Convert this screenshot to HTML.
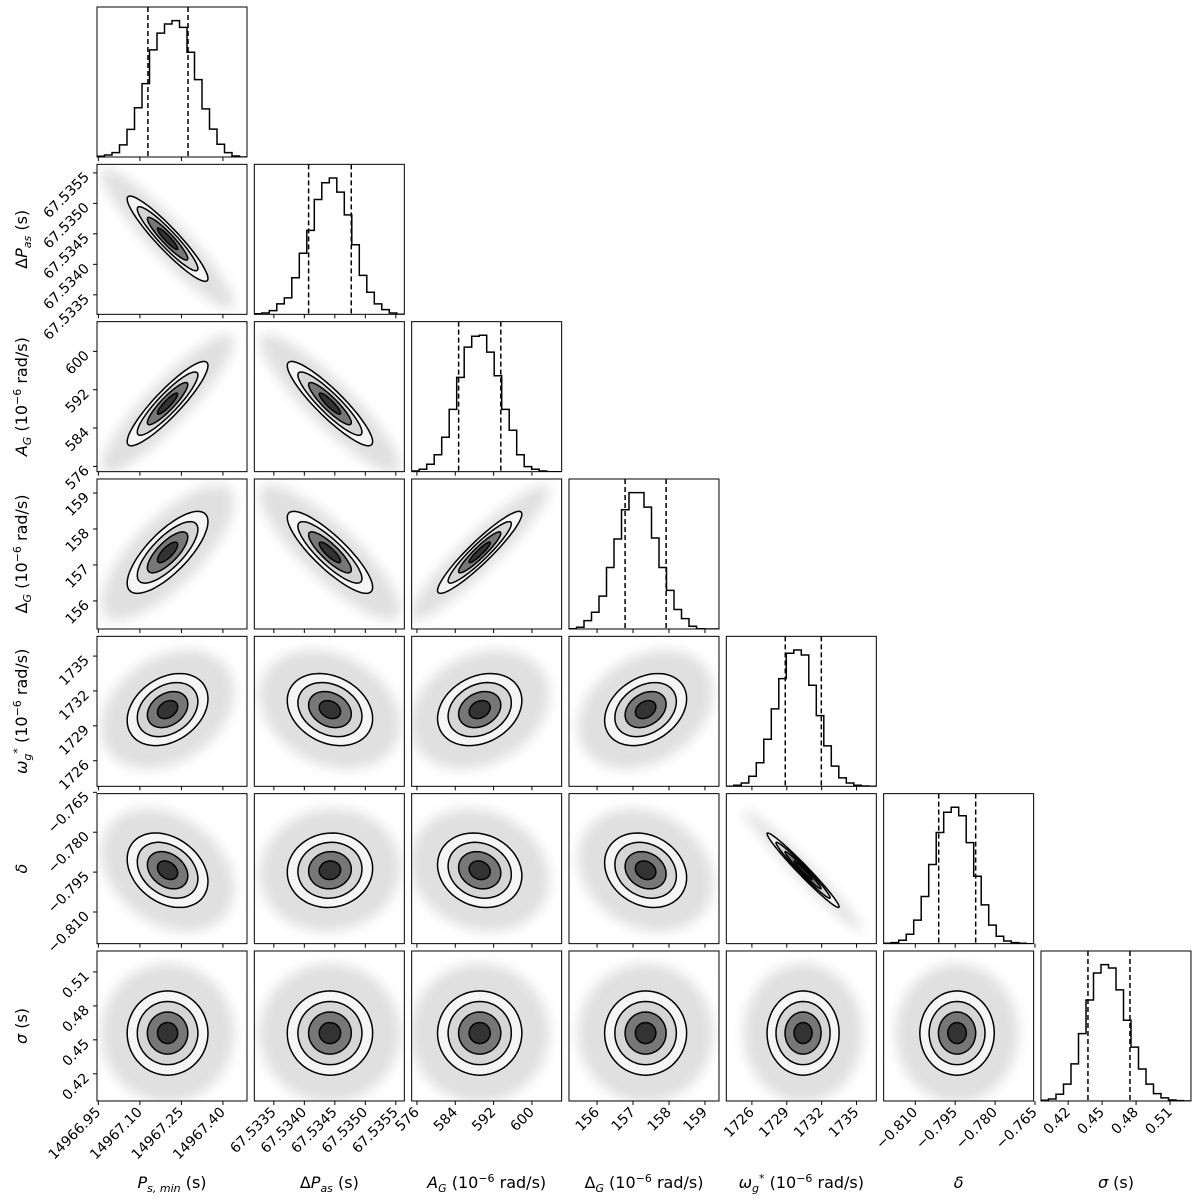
<!DOCTYPE html>
<html><head><meta charset="utf-8"><style>
html,body{margin:0;padding:0;background:#fff;}
svg{display:block;font-family:"DejaVu Sans","Liberation Sans",sans-serif;}
</style></head><body>
<svg id="chart" width="1200" height="1200" viewBox="0 0 1200 1200">
<defs><filter id="blur" x="-50%" y="-50%" width="200%" height="200%"><feGaussianBlur stdDeviation="6"/></filter></defs>
</svg>
<script>
// ---- data ----
const paramNames = ["P_smin","dP_as","A_G","Delta_G","omega_g","delta","sigma"];
const rangeLo = [14966.945, 67.53318, 574.9, 155.22, 1723.8, -0.8219, 0.396];
const rangeHi = [14967.487, 67.53564, 606.2, 159.39, 1736.7, -0.7655, 0.5285];
const means = [14967.20, 67.53442, 589.1, 157.35, 1730.4, -0.7943, 0.456];
const sds = [0.073, 0.00035, 4.4, 0.57, 1.55, 0.0070, 0.0186];
const q16 = [14967.129, 67.53407, 584.7, 156.78, 1728.87, -0.8012, 0.4375];
const q84 = [14967.274, 67.53477, 593.5, 157.92, 1731.97, -0.7873, 0.4746];
const corr = [
 [1, -0.93, 0.90, 0.75, 0.30, -0.30, 0.0],
 [-0.93, 1, -0.90, -0.85, -0.25, 0.05, 0.0],
 [0.90, -0.90, 1, 0.93, 0.25, -0.15, 0.0],
 [0.75, -0.85, 0.93, 1, 0.30, -0.20, 0.0],
 [0.30, -0.25, 0.25, 0.30, 1, -0.98, 0.0],
 [-0.30, 0.05, -0.15, -0.20, -0.98, 1, 0.0],
 [0.0, 0.0, 0.0, 0.0, 0.0, 0.0, 1]];
const hist0 = [2,6,13,36,82,146,218,318,368,395,405,385,311,230,143,83,38,13,3,0];
const hist1 = [2,4,11,31,49,109,182,250,342,392,406,364,296,207,116,66,31,14,4,0];
const hist2 = [2,7,22,50,102,185,280,370,402,405,355,285,185,123,50,15,7,2,0,0];
const hist3 = [1,5,25,50,98,183,268,355,406,406,363,271,183,115,58,31,8,1,0,0];
const hist4 = [0,3,10,30,70,140,230,320,395,405,390,300,210,120,60,25,10,3,1,0];
const hist5 = [1,3,10,28,70,140,235,330,390,405,380,300,200,115,55,22,8,3,1,0];
const hist6 = [2,6,20,50,110,200,300,380,405,395,330,240,160,95,50,22,9,3,1,0];
const hists = [hist0,hist1,hist2,hist3,hist4,hist5,hist6];
const ticks = [
 [14966.95,14967.10,14967.25,14967.40],
 [67.5335,67.5340,67.5345,67.5350,67.5355],
 [576,584,592,600],
 [156,157,158,159],
 [1726,1729,1732,1735],
 [-0.810,-0.795,-0.780,-0.765],
 [0.42,0.45,0.48,0.51]];
const tickLabels = [
 ["14966.95","14967.10","14967.25","14967.40"],
 ["67.5335","67.5340","67.5345","67.5350","67.5355"],
 ["576","584","592","600"],
 ["156","157","158","159"],
 ["1726","1729","1732","1735"],
 ["\u22120.810","\u22120.795","\u22120.780","\u22120.765"],
 ["0.42","0.45","0.48","0.51"]];
const contourLevels = [0.5,1,1.5,2];

// ---- layout ----
const NS="http://www.w3.org/2000/svg";
const svg=document.getElementById('chart');
const P0=97, PITCH=157.33, SZ=150, N=7;
function mk(tag,attrs,parent){const e=document.createElementNS(NS,tag);for(const k in attrs)e.setAttribute(k,attrs[k]);(parent||svg).appendChild(e);return e;}
function colX(i){return P0+i*PITCH;}
function rowY(i){return 7+i*PITCH;}
function sx(i,v){return colX(i)+(v-rangeLo[i])/(rangeHi[i]-rangeLo[i])*SZ;}
function sy(row,i,v){return rowY(row)+SZ-(v-rangeLo[i])/(rangeHi[i]-rangeLo[i])*SZ;}

function ellipsePts(i,j,row,r){
  const rho=corr[i][j];let pts=[];
  for(let k=0;k<=72;k++){const t=k/72*2*Math.PI;const z1=r*Math.cos(t),z2=r*Math.sin(t);
    const xv=means[i]+sds[i]*z1; const yv=means[j]+sds[j]*(rho*z1+Math.sqrt(1-rho*rho)*z2);
    pts.push(sx(i,xv).toFixed(1)+','+sy(row,j,yv).toFixed(1));}
  return pts.join(' ');
}

for(let r=0;r<N;r++){
  for(let c=0;c<=r;c++){
    const g=mk('g',{});
    
    
    const cid='clip'+r+'_'+c;
    const cp=mk('clipPath',{id:cid},g);mk('rect',{x:colX(c),y:rowY(r),width:SZ,height:SZ},cp);
    const inner=mk('g',{'clip-path':'url(#'+cid+')'},g);
    if(r===c){
      const h=hists[c];const mx=Math.max(...h)*1.1;const bw=SZ/h.length;
      let d='M'+colX(c)+','+(rowY(r)+SZ);
      h.forEach((v,k)=>{const y=rowY(r)+SZ-v/mx*SZ;d+=' L'+(colX(c)+k*bw).toFixed(1)+','+y.toFixed(1)+' L'+(colX(c)+(k+1)*bw).toFixed(1)+','+y.toFixed(1);});
      d+=' L'+(colX(c)+SZ)+','+(rowY(r)+SZ);
      const p=mk('path',{d:d,fill:'none',stroke:'#000','stroke-width':1.5},inner);
      
      
      [q16[c],q84[c]].forEach((q,qi)=>{const x=sx(c,q);
        const l=mk('line',{x1:x,x2:x,y1:rowY(r),y2:rowY(r)+SZ,stroke:'#000','stroke-width':1.5,'stroke-dasharray':'5,3'},inner);
        
        });
    } else {
      const haze=mk('polygon',{points:ellipsePts(c,r,r,3.3),fill:'#e0e0e0',filter:'url(#blur)'},inner);
      
      
      const fills=['#f5f5f5','#d6d6d6','#777777','#333333'];
      [2,1.5,1,0.5].forEach((lv,k)=>{mk('polygon',{points:ellipsePts(c,r,r,lv),fill:fills[k]},inner);});
      contourLevels.forEach(lv=>{const e=mk('polygon',{points:ellipsePts(c,r,r,lv),fill:'none',stroke:'#000','stroke-width':1.5},inner);
        
        });
    }
    mk('rect',{x:colX(c),y:rowY(r),width:SZ,height:SZ,fill:'none',stroke:'#000','stroke-width':1},g);
    ticks[c].forEach((t,k)=>{const x=sx(c,t);mk('line',{x1:x,x2:x,y1:rowY(r)+SZ,y2:rowY(r)+SZ+4,stroke:'#000','stroke-width':1},g);
      if(r===N-1){const tx=mk('text',{x:x+3,y:rowY(r)+SZ+12,'font-size':14,'text-anchor':'end',transform:'rotate(-45 '+(x+3)+' '+(rowY(r)+SZ+12)+')'},g);tx.textContent=tickLabels[c][k];
        
        }});
    if(c===0 && r>0){
      ticks[r].forEach((t,k)=>{const y=sy(r,r,t);mk('line',{x1:colX(0)-4,x2:colX(0),y1:y,y2:y,stroke:'#000','stroke-width':1},g);
        const tx=mk('text',{x:colX(0)-7,y:y+5,'font-size':14,'text-anchor':'end',transform:'rotate(-45 '+(colX(0)-7)+' '+(y+5)+')'},g);tx.textContent=tickLabels[r][k];
        
        });
    }
  }
}
</script>
<script>
const titles=[
 '<tspan font-style="italic">P</tspan><tspan font-size="11" dy="4" font-style="italic">s, min</tspan><tspan dy="-4"> (s)</tspan>',
 'Δ<tspan font-style="italic">P</tspan><tspan font-size="11" dy="4" font-style="italic">as</tspan><tspan dy="-4"> (s)</tspan>',
 '<tspan font-style="italic">A</tspan><tspan font-size="11" dy="4" font-style="italic">G</tspan><tspan dy="-4"> (10</tspan><tspan font-size="11" dy="-6">−6</tspan><tspan dy="6"> rad/s)</tspan>',
 'Δ<tspan font-size="11" dy="4" font-style="italic">G</tspan><tspan dy="-4"> (10</tspan><tspan font-size="11" dy="-6">−6</tspan><tspan dy="6"> rad/s)</tspan>',
 '<tspan font-style="italic">ω</tspan><tspan font-size="11" dy="4" font-style="italic">g</tspan><tspan font-size="11" dy="-10">*</tspan><tspan dy="6"> (10</tspan><tspan font-size="11" dy="-6">−6</tspan><tspan dy="6"> rad/s)</tspan>',
 '<tspan font-style="italic">δ</tspan>',
 '<tspan font-style="italic">σ</tspan> (s)'];
const S=document.getElementById('chart');
for(let i=0;i<7;i++){
  const cx=97+i*157.33+75;
  const t=document.createElementNS("http://www.w3.org/2000/svg",'text');
  t.setAttribute('x',cx);t.setAttribute('y',1188);t.setAttribute('font-size',16);t.setAttribute('text-anchor','middle');
  t.innerHTML=titles[i];
  
  
  S.appendChild(t);
  if(i>0){
    const cy=7+i*157.33+75;
    const u=document.createElementNS("http://www.w3.org/2000/svg",'text');
    u.setAttribute('x',0);u.setAttribute('y',0);u.setAttribute('font-size',16);u.setAttribute('text-anchor','middle');
    u.setAttribute('transform','translate(27 '+cy+') rotate(-90)');
    u.innerHTML=titles[i];
    
    
    S.appendChild(u);
  }
}
</script>
</body></html>
